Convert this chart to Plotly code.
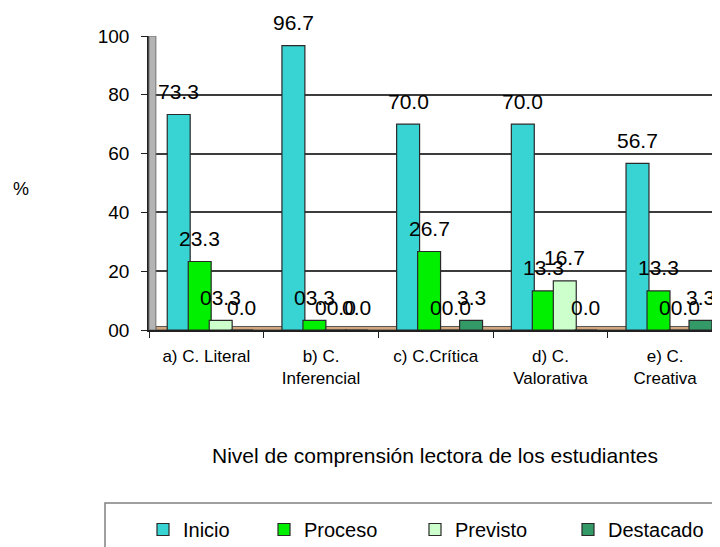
import plotly.graph_objects as go

categorias = ["a) C. Literal", "b) C.<br>Inferencial", "c) C.Crítica",
              "d) C.<br>Valorativa", "e) C.<br>Creativa"]
inicio = [73.3, 96.7, 70.0, 70.0, 56.7]
proceso = [23.3, 3.3, 26.7, 13.3, 13.3]
previsto = [3.3, 0.0, 0.0, 16.7, 0.0]
destacado = [0.0, 0.0, 3.3, 0.0, 3.3]
y_ticks = [0, 20, 40, 60, 80, 100]
y_ticktext = ["00", "20", "40", "60", "80", "100"]

# page body has an 8px margin, so the figure is drawn 8px smaller and offset
OFF = 8
W, H = 720 - OFF, 547 - OFF
L, T, B = 149 - OFF, 36 - OFF, 217
PW, PH = W - L, H - T - B


def px_x(px):
    return (px - OFF - L) / PW


def px_y(py):
    return (H - B - (py - OFF)) / PH


series = [
    ("Inicio", inicio, "#38D3D3", "{:.1f}"),
    ("Proceso", proceso, "#00F000", "{:04.1f}"),
    ("Previsto", previsto, "#CCFFCC", "{:04.1f}"),
    ("Destacado", destacado, "#339966", "{:.1f}"),
]
centros = [-0.241, -0.058, 0.125, 0.308]
ancho = 0.2
legend_x = [184, 305, 456, 609]

fig = go.Figure()
anots = []
for k, (nombre, vals, color, fmt) in enumerate(series):
    lg = "legend" if k == 0 else f"legend{k + 1}"
    fig.add_trace(go.Bar(
        x=categorias, y=vals, name=nombre,
        width=ancho, offset=centros[k] - ancho / 2,
        marker=dict(color=color, line=dict(color="#2a2a2a", width=1.2)),
        legend=lg,
    ))
    for i, v in enumerate(vals):
        anots.append(dict(
            x=i + centros[k], y=v, xref="x", yref="y",
            text=fmt.format(v), showarrow=False, yshift=23,
            xanchor="center", yanchor="middle",
            font=dict(size=21, color="black"),
        ))

anots.append(dict(x=px_x(21), y=px_y(189), xref="paper", yref="paper",
                  xanchor="center", yanchor="middle",
                  text="%", showarrow=False, font=dict(size=18, color="black")))
anots.append(dict(x=0.5, y=px_y(455), xref="paper", yref="paper",
                  xanchor="center", yanchor="middle",
                  text="Nivel de comprensión lectora de los estudiantes",
                  showarrow=False, font=dict(size=21, color="black")))

shapes = [
    # back wall on the left
    dict(type="rect", xref="x domain", yref="y", x0=0, x1=0.012, y0=0, y1=100,
         fillcolor="#B4B4B4", line=dict(color="#707070", width=1), layer="above"),
    # floor
    dict(type="rect", xref="x domain", yref="y", x0=0.012, x1=1, y0=0, y1=1.2,
         fillcolor="#D2A77D", line=dict(color="#555555", width=1), layer="below"),
    # legend frame
    dict(type="rect", xref="paper", yref="paper", x0=px_x(105), x1=px_x(740),
         y0=px_y(560), y1=px_y(503), line=dict(color="#808080", width=1.5)),
]

fig.update_layout(
    width=W, height=H,
    margin=dict(l=L, r=0, t=T, b=B, autoexpand=False),
    barmode="overlay",
    showlegend=True,
    plot_bgcolor="white", paper_bgcolor="white",
    font=dict(family="Liberation Sans, Arial, sans-serif", color="black"),
    annotations=anots,
    shapes=shapes,
    xaxis=dict(
        type="category", range=[-0.5, -0.5 + PW / 114.7],
        showline=True, linecolor="#202020", linewidth=1.5,
        ticks="outside", tickson="boundaries", ticklen=6, tickcolor="#202020",
        ticklabelstandoff=10, tickfont=dict(size=17), showgrid=False,
    ),
    yaxis=dict(
        range=[0, 100], tickvals=y_ticks, ticktext=y_ticktext,
        showline=True, linecolor="#202020", linewidth=1.5,
        ticks="outside", ticklen=6, tickcolor="#202020",
        ticklabelstandoff=8, tickfont=dict(size=19),
        showgrid=True, gridcolor="#3c3c3c", gridwidth=1.5, zeroline=False,
    ),
)

for k in range(4):
    key = "legend" if k == 0 else f"legend{k + 1}"
    fig.update_layout({key: dict(
        x=px_x(legend_x[k] - 41), y=px_y(510), xanchor="left", yanchor="top",
        bgcolor="rgba(0,0,0,0)", borderwidth=0, font=dict(size=20),
    )})

fig.write_html("out.html")
